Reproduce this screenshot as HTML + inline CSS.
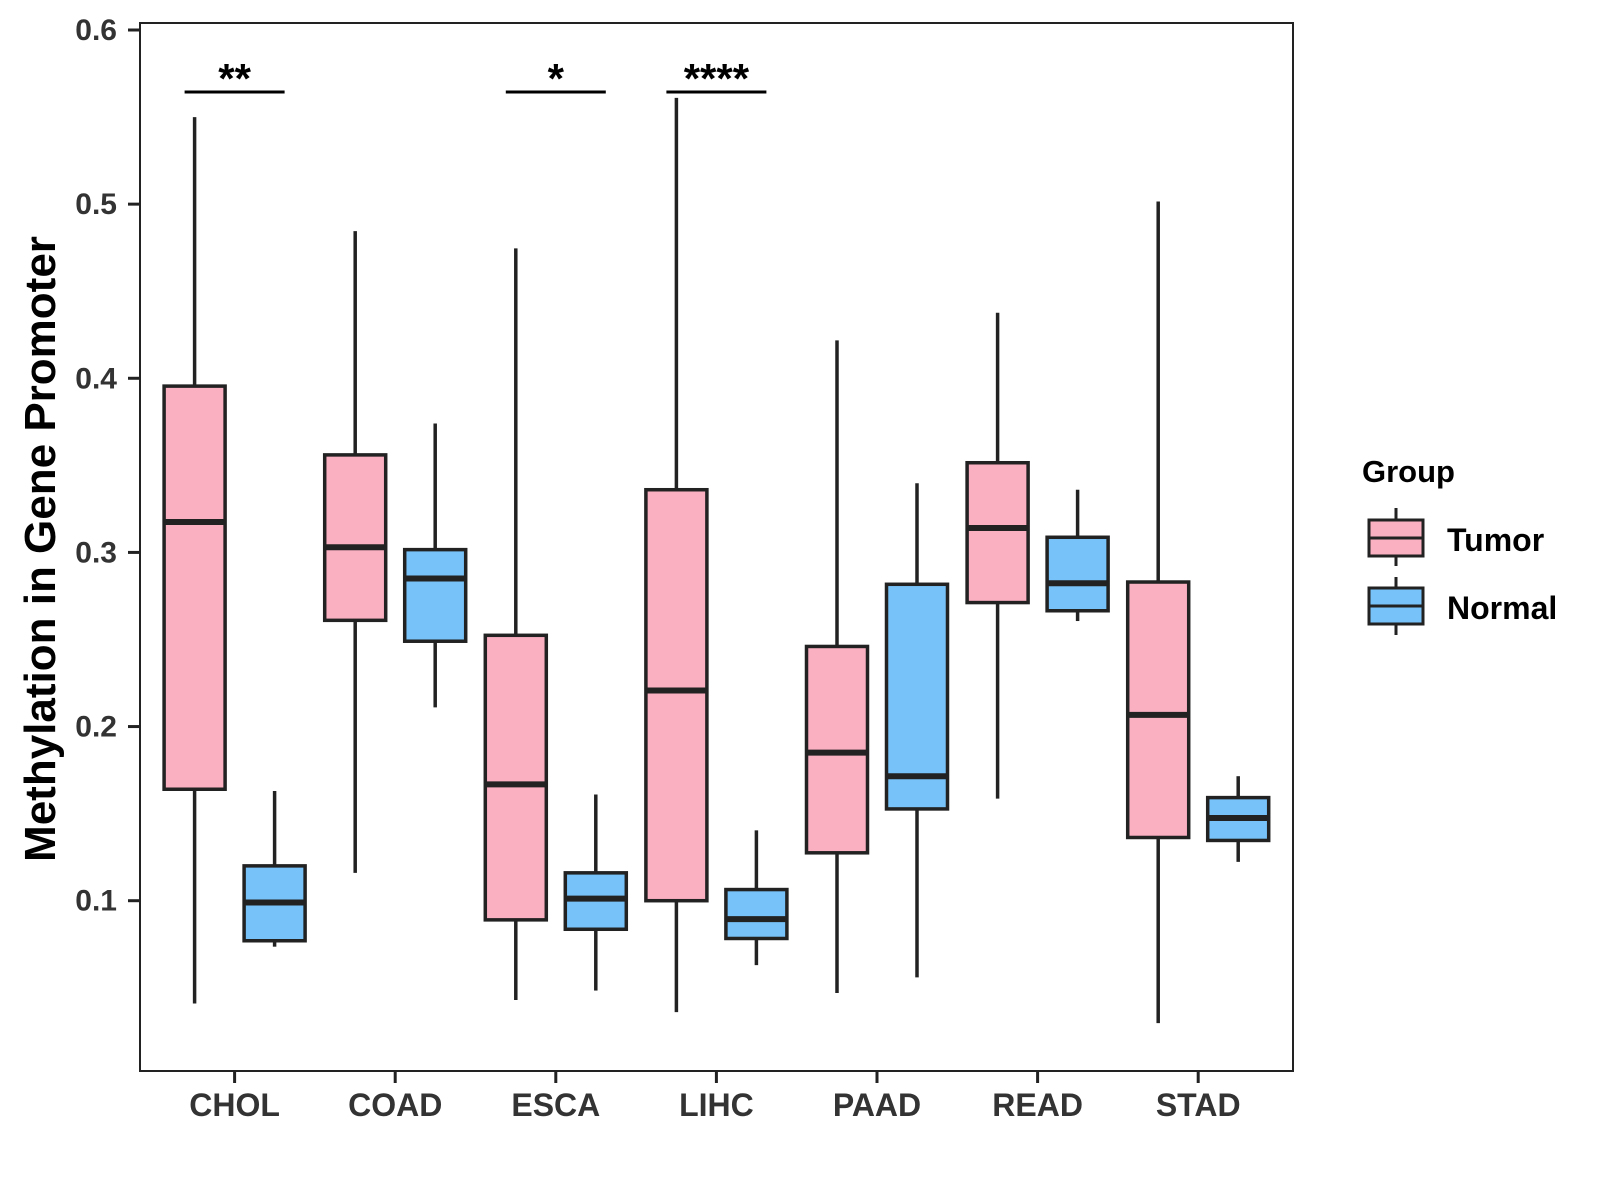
<!DOCTYPE html>
<html><head><meta charset="utf-8"><style>
html,body{margin:0;padding:0;background:#fff;}
svg{display:block;font-family:"Liberation Sans",Arial,sans-serif;}
</style></head><body>
<svg id="chart" width="1600" height="1200" viewBox="0 0 1600 1200">
<rect x="140" y="23" width="1153" height="1048" fill="#fff" stroke="#222" stroke-width="2"/>
<g id="marks"></g>
<text x="0" y="0" transform="translate(55,549) rotate(-90)" text-anchor="middle" font-size="44" font-weight="bold" fill="#000">Methylation in Gene Promoter</text>
<g>
<text x="1362" y="482" font-size="31" font-weight="bold" fill="#000">Group</text>
<g>
<line x1="1396" y1="508" x2="1396" y2="566" stroke="#222" stroke-width="3"/>
<rect x="1369" y="520" width="54" height="36" fill="#FBB0C2" stroke="#222" stroke-width="3"/>
<line x1="1369" y1="538" x2="1423" y2="538" stroke="#222" stroke-width="3"/>
<text x="1447" y="551" font-size="32" font-weight="bold" fill="#000">Tumor</text>
</g>
<g>
<line x1="1396" y1="577" x2="1396" y2="635" stroke="#222" stroke-width="3"/>
<rect x="1369" y="588" width="54" height="36" fill="#77C2F8" stroke="#222" stroke-width="3"/>
<line x1="1369" y1="606" x2="1423" y2="606" stroke="#222" stroke-width="3"/>
<text x="1447" y="619" font-size="32" font-weight="bold" fill="#000">Normal</text>
</g>
</g>
</svg>
<script>
const categories = ["CHOL","COAD","ESCA","LIHC","PAAD","READ","STAD"];
// [low, q1, median, q3, high]
const tumor = [
 [0.041,0.164,0.3175,0.3955,0.550],
 [0.116,0.261,0.303,0.356,0.4845],
 [0.043,0.089,0.1668,0.2524,0.4746],
 [0.036,0.100,0.2207,0.336,0.561],
 [0.047,0.1275,0.185,0.246,0.4218],
 [0.1586,0.2712,0.314,0.3515,0.4376],
 [0.0297,0.1363,0.2067,0.283,0.5015]
];
const normal = [
 [0.0736,0.077,0.099,0.120,0.163],
 [0.211,0.249,0.285,0.3016,0.374],
 [0.0484,0.0836,0.1012,0.116,0.161],
 [0.063,0.0783,0.0894,0.1064,0.1404],
 [0.056,0.1527,0.1715,0.2817,0.3397],
 [0.2606,0.2665,0.2823,0.3087,0.336],
 [0.1223,0.1346,0.1475,0.1592,0.1715]
];
const yTicks = [0.1,0.2,0.3,0.4,0.5,0.6];
const sigCats = ["CHOL","ESCA","LIHC"];
const sigLabels = ["**","*","****"];

const NS="http://www.w3.org/2000/svg";
const svg=document.getElementById("chart");
const g=document.getElementById("marks");
function y(v){return 30+(0.6-v)*1741.4;}
function x(i){return 234.6+i*160.6;}
function mk(tag,attrs,parent){const e=document.createElementNS(NS,tag);for(const k in attrs)e.setAttribute(k,attrs[k]);(parent||g).appendChild(e);return e;}

yTicks.forEach(t=>{
  const l=mk("line",{x1:128,x2:140,y1:y(t),y2:y(t),stroke:"#222","stroke-width":3});
  
  
  const tx=mk("text",{x:117,y:y(t)+10,"text-anchor":"end","font-size":30,"font-weight":"bold",fill:"#333"});
  tx.textContent=t.toFixed(1);
  
  
});
categories.forEach((c,i)=>{
  const l=mk("line",{x1:x(i),x2:x(i),y1:1071,y2:1083,stroke:"#222","stroke-width":3});
  
  
  const tx=mk("text",{x:x(i),y:1116,"text-anchor":"middle","font-size":32,"font-weight":"bold",fill:"#333"});
  tx.textContent=c;
  
  
});
function box(cx,s,fill,name){
  const bg=mk("g",{});
  
  
  const w=61;
  mk("line",{x1:cx,x2:cx,y1:y(s[4]),y2:y(s[3]),stroke:"#222","stroke-width":3.5},bg);
  mk("line",{x1:cx,x2:cx,y1:y(s[1]),y2:y(s[0]),stroke:"#222","stroke-width":3.5},bg);
  mk("rect",{x:cx-w/2,y:y(s[3]),width:w,height:y(s[1])-y(s[3]),fill:fill,stroke:"#222","stroke-width":3.5},bg);
  mk("line",{x1:cx-w/2,x2:cx+w/2,y1:y(s[2]),y2:y(s[2]),stroke:"#222","stroke-width":6},bg);
}
categories.forEach((c,i)=>{
  box(x(i)-40,tumor[i],"#FBB0C2","box-tumor-"+c.toLowerCase());
  box(x(i)+40,normal[i],"#77C2F8","box-normal-"+c.toLowerCase());
});
sigCats.forEach((c,k)=>{
  const i=categories.indexOf(c);
  const l=mk("line",{x1:x(i)-50,x2:x(i)+50,y1:92,y2:92,stroke:"#000","stroke-width":3});
  
  
  const t=mk("text",{x:x(i),y:93,"text-anchor":"middle","font-size":42,"font-weight":"bold",fill:"#000"});
  t.textContent=sigLabels[k];
  
  
});
</script>
</body></html>
